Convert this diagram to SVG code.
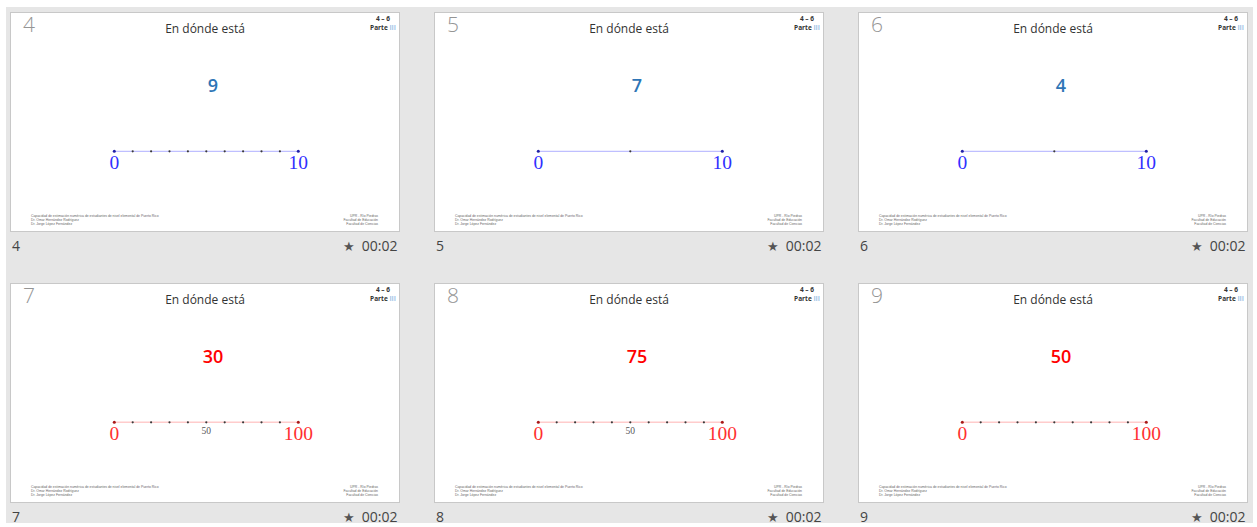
<svg xmlns="http://www.w3.org/2000/svg" xmlns:xlink="http://www.w3.org/1999/xlink" width="1257" height="527" viewBox="0 0 1257 527">
<style>
.bg{fill:#e6e6e6}
.slide{fill:#ffffff;stroke:#c8c8c8;stroke-width:1}
.snum{font-family:"Open Sans","Liberation Sans",sans-serif;font-weight:300;font-size:21px;fill:#959595}
.title{font-family:"Open Sans","Liberation Sans",sans-serif;font-size:12px;fill:#333333;text-anchor:middle}
.part{font-family:"Open Sans","Liberation Sans",sans-serif;font-weight:700;font-size:6.5px;fill:#333333;text-anchor:middle}
.roman{fill:#9dc3e6}
.bignum{font-family:"Open Sans","Liberation Sans",sans-serif;font-weight:600;font-size:18px;text-anchor:middle}
.blue{fill:#2e75b6}
.red{fill:#ff0000}
.lab{font-family:"Liberation Serif","Times New Roman",serif;font-size:19.5px;text-anchor:middle}
.labB{fill:#3030ff}
.labR{fill:#ff3030}
.mid{font-family:"Liberation Serif","Times New Roman",serif;font-size:9.5px;fill:#555555;text-anchor:middle}
.lineB{stroke:#b0b0ff;stroke-width:1}
.lineR{stroke:#ffcccc;stroke-width:1.6}
.dot{fill:#3a3a3a}
.endB{fill:#2020a8}
.endR{fill:#a81818}
.foot{font-family:"Liberation Sans",Arial,sans-serif;font-size:3.4px;fill:#666666}
.footR{font-family:"Liberation Sans",Arial,sans-serif;font-size:3.4px;fill:#666666;text-anchor:end}
.cap{font-family:"Open Sans","Liberation Sans",sans-serif;font-size:14px;fill:#444444}
.star{font-family:"DejaVu Sans",sans-serif;font-size:13px;fill:#555555}
</style>
<defs>
<g id="dots11">
<circle class="dot" cx="122.7" cy="139.3" r="1.1"/>
<circle class="dot" cx="141.1" cy="139.3" r="1.1"/>
<circle class="dot" cx="159.5" cy="139.3" r="1.1"/>
<circle class="dot" cx="177.9" cy="139.3" r="1.1"/>
<circle class="dot" cx="196.3" cy="139.3" r="1.1"/>
<circle class="dot" cx="214.7" cy="139.3" r="1.1"/>
<circle class="dot" cx="233.1" cy="139.3" r="1.1"/>
<circle class="dot" cx="251.5" cy="139.3" r="1.1"/>
<circle class="dot" cx="269.9" cy="139.3" r="1.1"/>
</g>
<g id="dots3">
<circle class="dot" cx="196.3" cy="139.3" r="1.1"/>
</g>
<g id="frame">
<rect class="slide" x="0.5" y="0.5" width="389" height="219"/>
<text class="title" x="195" y="21">En dónde está</text>
<text class="part" x="373" y="9">4 – 6</text>
<text class="part" x="373" y="18">Parte <tspan class="roman">III</tspan></text>
<text class="foot" x="21" y="204.5">Capacidad de estimación numérica de estudiantes de nivel elemental de Puerto Rico</text>
<text class="foot" x="21" y="208.5">Dr. Omar Hernández Rodríguez</text>
<text class="foot" x="21" y="213">Dr. Jorge López Fernández</text>
<text class="footR" x="368" y="204.5">UPR - Río Piedras</text>
<text class="footR" x="368" y="208.5">Facultad de Educación</text>
<text class="footR" x="368" y="213">Facultad de Ciencias</text>
<text class="star" x="333" y="238.5">★</text>
<text class="cap" x="387.5" y="238.7" text-anchor="end">00:02</text>
</g>
<g id="lineBlue">
<line class="lineB" x1="104.3" y1="139.3" x2="288.3" y2="139.3"/>
<circle class="endB" cx="104.3" cy="139.3" r="1.5"/>
<circle class="endB" cx="288.3" cy="139.3" r="1.5"/>
<text class="lab labB" x="104.3" y="157">0</text>
<text class="lab labB" x="288.3" y="157">10</text>
</g>
<g id="lineRed">
<line class="lineR" x1="104.3" y1="139.3" x2="288.3" y2="139.3"/>
<circle class="endR" cx="104.3" cy="139.3" r="1.5"/>
<circle class="endR" cx="288.3" cy="139.3" r="1.5"/>
<text class="lab labR" x="104.3" y="157">0</text>
<text class="lab labR" x="288.3" y="157">100</text>
</g>
</defs>
<rect class="bg" x="6" y="7" width="1247" height="516"/>

<g id="slide4" transform="translate(10,12)">
<use xlink:href="#frame"/>
<text class="snum" x="13" y="20">4</text>
<text class="bignum blue" x="203" y="79.5">9</text>
<use xlink:href="#lineBlue"/>
<use xlink:href="#dots11"/>
<text class="cap" x="2" y="238.7">4</text>
</g>

<g id="slide5" transform="translate(434,12)">
<use xlink:href="#frame"/>
<text class="snum" x="13" y="20">5</text>
<text class="bignum blue" x="203" y="79.5">7</text>
<use xlink:href="#lineBlue"/>
<use xlink:href="#dots3"/>
<text class="cap" x="2" y="238.7">5</text>
</g>

<g id="slide6" transform="translate(858,12)">
<use xlink:href="#frame"/>
<text class="snum" x="13" y="20">6</text>
<text class="bignum blue" x="203" y="79.5">4</text>
<use xlink:href="#lineBlue"/>
<use xlink:href="#dots3"/>
<text class="cap" x="2" y="238.7">6</text>
</g>

<g id="slide7" transform="translate(10,283)">
<use xlink:href="#frame"/>
<text class="snum" x="13" y="20">7</text>
<text class="bignum red" x="203" y="79.5">30</text>
<use xlink:href="#lineRed"/>
<use xlink:href="#dots11"/>
<text class="mid" x="196.3" y="150.7">50</text>
<text class="cap" x="2" y="238.7">7</text>
</g>

<g id="slide8" transform="translate(434,283)">
<use xlink:href="#frame"/>
<text class="snum" x="13" y="20">8</text>
<text class="bignum red" x="203" y="79.5">75</text>
<use xlink:href="#lineRed"/>
<use xlink:href="#dots11"/>
<text class="mid" x="196.3" y="150.7">50</text>
<text class="cap" x="2" y="238.7">8</text>
</g>

<g id="slide9" transform="translate(858,283)">
<use xlink:href="#frame"/>
<text class="snum" x="13" y="20">9</text>
<text class="bignum red" x="203" y="79.5">50</text>
<use xlink:href="#lineRed"/>
<use xlink:href="#dots11"/>
<text class="cap" x="2" y="238.7">9</text>
</g>
</svg>
